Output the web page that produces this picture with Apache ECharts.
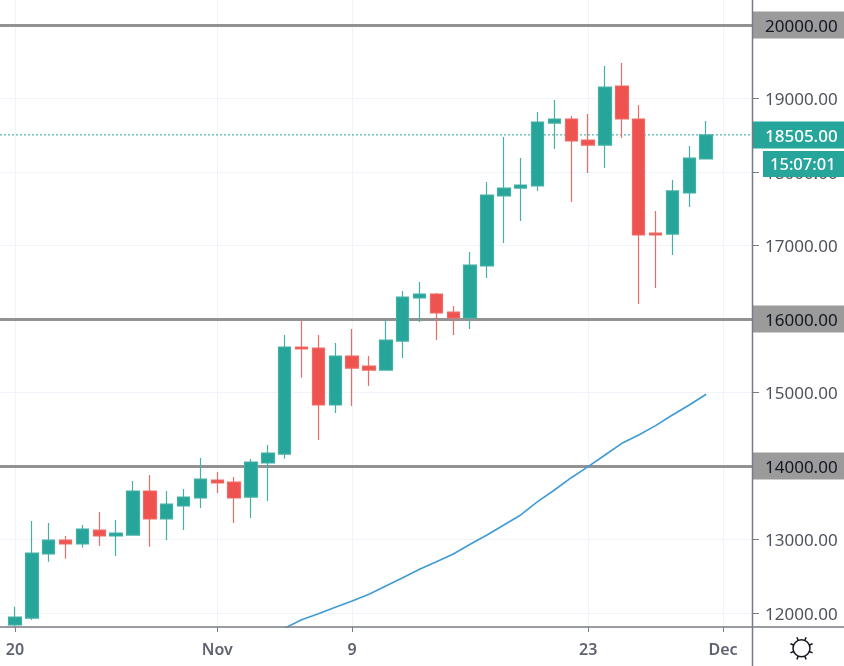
<!DOCTYPE html>
<html>
<head>
<meta charset="utf-8">
<style>html,body{margin:0;padding:0;background:#fff}#c{width:844px;height:666px}</style>
<script src="https://cdn.jsdelivr.net/npm/echarts@6/dist/echarts.min.js"></script>
</head>
<body>
<div id="c"></div>
<script>
// day index 0 = Oct 20
const opens  = [11837,11932,12803,12993,12939,13129,13048,13061,13660,13279,13456,13565,13810,13782,13578,14041,14163,15619,15605,14830,15497,15361,15306,15700,16286,16340,16095,16014,16721,17674,17782,17810,18666,18721,18435,18367,19170,18721,17170,17156,17714,18177];
const closes = [11946,12816,12993,12939,13143,13048,13089,13660,13279,13483,13578,13823,13769,13565,14055,14177,15619,15592,14830,15497,15333,15306,15714,16299,16340,16082,16014,16735,17687,17782,17823,18680,18721,18422,18367,19156,18721,17143,17143,17742,18190,18505];
const lows   = [11820,11905,12698,12739,12889,12912,12776,13055,12902,12993,13129,13429,13633,13225,13293,13524,14100,15201,14354,14721,14817,15089,15300,15469,15959,15714,15782,15864,16558,17034,17333,17742,18313,17592,17986,18054,18463,16204,16422,16871,17524,18177];
const highs  = [12086,13252,13225,13048,13198,13374,13265,13796,13878,13660,13687,14109,13918,13850,14095,14286,15782,15973,15782,15673,15864,15497,15986,16381,16503,16354,16177,16912,17864,18476,18190,18816,18980,18762,18789,19442,19483,18911,17470,17891,18354,18694];
const smaStart = 16;
const smaValues = [11795,11909,11991,12078,12164,12255,12367,12480,12595,12698,12803,12935,13062,13198,13334,13515,13674,13841,13991,14150,14309,14422,14549,14694,14830,14976];
const dateTicks = [0,12,20,34,42];
const dateLabels = ['20','Nov','9','23','Dec'];
const priceTicks = [12000,13000,14000,15000,16000,17000,18000,18505,19000,20000];
const levels = [14000,16000,20000];
const lastPrice = 18505;
const countdown = '15:07:01';

const candles = opens.map((o,i)=>[i,o,closes[i],lows[i],highs[i]]);
const sma = smaValues.map((v,i)=>[smaStart+i,v]);
const AXIS='#787b86', GRID='#f0f3fa', UP='#26a69a', DOWN='#ef5350', LEVEL='#929292';
const X_MIN=-0.89, X_MAX=43.72;

const rays=[];
for(let a=0;a<8;a++){
  const t=a*Math.PI/4+Math.PI/8;
  rays.push({type:'line',shape:{x1:801.5+8.5*Math.cos(t),y1:648.3+8.5*Math.sin(t),x2:801.5+12*Math.cos(t),y2:648.3+12*Math.sin(t)},
    style:{stroke:'#131722',lineWidth:1.5},silent:true,z:20});
}

const chart=echarts.init(document.getElementById('c'),null,{renderer:'canvas'});
chart.setOption({
  animation:false,
  backgroundColor:'#fff',
  grid:{left:0,right:92,top:0,bottom:39,containLabel:false,outerBoundsMode:'none'},
  xAxis:{
    type:'value',min:X_MIN,max:X_MAX,
    axisLine:{show:false,onZero:false},
    axisTick:{show:true,length:5,lineStyle:{color:AXIS,width:1},customValues:dateTicks},
    splitLine:{show:true,lineStyle:{color:GRID,width:1}},
    axisLabel:{customValues:dateTicks,margin:15,color:'#5f6270',fontFamily:'Noto Sans',fontSize:16,fontWeight:600,
      formatter:v=>dateLabels[dateTicks.indexOf(v)],showMinLabel:true,showMaxLabel:true}
  },
  yAxis:{
    type:'value',position:'right',min:11810,max:20340,scale:true,
    axisLine:{show:false,onZero:false},
    axisTick:{show:true,length:7,lineStyle:{color:AXIS,width:1},customValues:priceTicks.filter(v=>v!==lastPrice).concat([lastPrice])},
    splitLine:{show:false},
    axisLabel:{customValues:priceTicks,margin:0,showMinLabel:true,showMaxLabel:true,
      formatter:v=>{
        const t=v.toFixed(2);
        if(v===lastPrice) return '{cur|'+t+'}';
        if(levels.includes(v)) return '{lvl|'+t+'}';
        return '{std|'+t+'}';
      },
      rich:{
        std:{color:'#50535e',fontFamily:'Noto Sans',fontSize:17,width:80,height:23,padding:[4,0,0,13],align:'left'},
        lvl:{color:'#131722',backgroundColor:'#9b9b9b',fontFamily:'Noto Sans',fontSize:17,width:79,height:23,padding:[4,0,0,13],align:'left'},
        cur:{color:'#fff',backgroundColor:UP,fontFamily:'Noto Sans',fontSize:17,fontWeight:500,width:79,height:23,padding:[4,0,0,13],align:'left'}
      }}
  },
  series:[
    {
      type:'candlestick',
      data:candles,
      encode:{x:0,y:[1,2,3,4]},
      barWidth:13,
      z:5,
      itemStyle:{color:UP,color0:DOWN,borderColor:'#45b0a5',borderColor0:'#ee6b67',borderWidth:1.2},
      markLine:{
        silent:true,symbol:'none',animation:false,
        label:{show:false},
        data:[
          ...priceTicks.filter(v=>v!==lastPrice&&!levels.includes(v)).map(v=>({yAxis:v,lineStyle:{color:GRID,width:1,type:'solid'}})),
          ...levels.map(v=>({yAxis:v,lineStyle:{color:LEVEL,width:3,type:'solid'}}))
        ]
      }
    },
    {type:'line',data:[[X_MIN,lastPrice],[X_MAX,lastPrice]],showSymbol:false,symbol:'none',z:4,lineStyle:{color:'#26a69a',width:1,type:[2,2]}},
    {type:'line',data:sma,showSymbol:false,symbol:'none',lineStyle:{color:'#3f9bd6',width:1.6},z:6}
  ],
  graphic:[
    {type:'line',shape:{x1:752.5,y1:0,x2:752.5,y2:666},style:{stroke:AXIS,lineWidth:1.5},silent:true,z:20},
    {type:'line',shape:{x1:0,y1:627,x2:844,y2:627},style:{stroke:AXIS,lineWidth:1.5},silent:true,z:20},
    {type:'rect',shape:{x:763,y:151,width:81,height:26},style:{fill:UP},silent:true,z:21},
    {type:'text',x:770,y:165,style:{text:countdown,fill:'#fff',font:'500 16.5px "Noto Sans"',verticalAlign:'middle'},silent:true,z:22},
    {type:'circle',shape:{cx:801.5,cy:648.3,r:8.5},style:{fill:'none',stroke:'#131722',lineWidth:1.5},silent:true,z:20},
    ...rays
  ]
});
</script>
</body>
</html>
